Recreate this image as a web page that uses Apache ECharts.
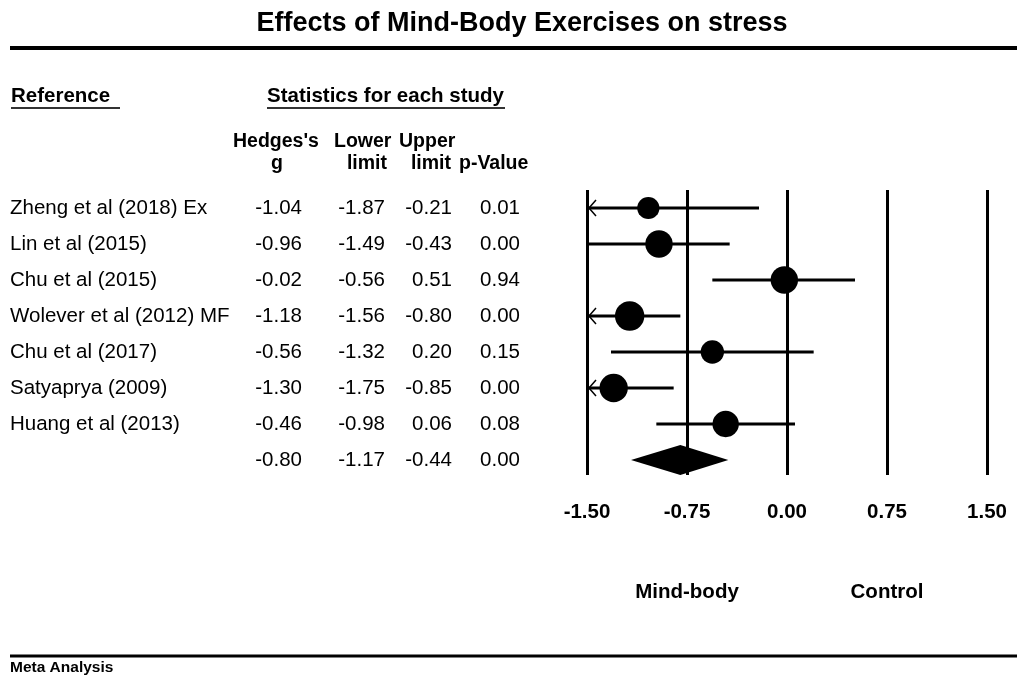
<!DOCTYPE html>
<html>
<head>
<meta charset="utf-8">
<script src="https://cdn.jsdelivr.net/npm/echarts@6/dist/echarts.min.js"></script>
<style>
  html, body { margin: 0; padding: 0; background: #fff; }
  #chart { width: 1017px; height: 681px; }
</style>
</head>
<body>
<div id="chart"></div>
<script>
  // data
  var studies = ['Zheng et al (2018) Ex', 'Lin et al (2015)', 'Chu et al (2015)',
    'Wolever et al (2012) MF', 'Chu et al (2017)', 'Satyaprya (2009)', 'Huang et al (2013)']
  var hedgesG = [-1.04, -0.96, -0.02, -1.18, -0.56, -1.30, -0.46]
  var lowerLimit = [-1.87, -1.49, -0.56, -1.56, -1.32, -1.75, -0.98]
  var upperLimit = [-0.21, -0.43, 0.51, -0.80, 0.20, -0.85, 0.06]
  var pValue = [0.01, 0.00, 0.94, 0.00, 0.15, 0.00, 0.08]
  // relative weight (%)
  var studyWeight = [10.1, 15.3, 15.3, 17.6, 11.1, 16.4, 14.2]
  var summaryG = -0.80
  var summaryLower = -1.17
  var summaryUpper = -0.44
  var summaryP = 0.00
  var xTicks = [-1.50, -0.75, 0.00, 0.75, 1.50]

  var FONT = '"Liberation Sans", Arial, sans-serif'
  var FS = 20.5
  var HS = 19.5 // column header size
  var xMin = xTicks[0]
  var xMax = xTicks[xTicks.length - 1]
  var nRows = studies.length + 1

  var chart = echarts.init(document.getElementById('chart'))

  // CI whiskers, clipped with an open arrow when off scale
  function renderCI (params, api) {
    var lo = api.value(0)
    var hi = api.value(1)
    var row = api.value(2)
    var p1 = api.coord([Math.max(lo, xMin), row])
    var p2 = api.coord([Math.min(hi, xMax), row])
    var children = [{
      type: 'line',
      shape: { x1: p1[0], y1: p1[1], x2: p2[0], y2: p2[1] },
      style: { stroke: '#000', lineWidth: 3 }
    }]
    if (lo < xMin) {
      children.push({
        type: 'polyline',
        shape: { points: [[p1[0] + 9, p1[1] - 8], [p1[0] + 2, p1[1]], [p1[0] + 9, p1[1] + 8]] },
        style: { stroke: '#000', lineWidth: 1.5, fill: null }
      })
    }
    return { type: 'group', children: children }
  }

  function renderDiamond (params, api) {
    var lo = api.coord([api.value(0), api.value(3)])
    var mid = api.coord([api.value(1), api.value(3)])
    var hi = api.coord([api.value(2), api.value(3)])
    var h = 15
    return {
      type: 'polygon',
      shape: { points: [[lo[0], lo[1]], [mid[0], mid[1] - h], [hi[0], hi[1]], [mid[0], mid[1] + h]] },
      style: { fill: '#000' }
    }
  }

  var ciData = studies.map(function (s, i) { return [lowerLimit[i], upperLimit[i], i] })
  var pointData = studies.map(function (s, i) { return [hedgesG[i], i, studyWeight[i]] })

  chart.setOption({
    backgroundColor: '#fff',
    animation: false,
    grid: { left: 587, right: 30, top: 190, bottom: 206 },
    xAxis: {
      type: 'value',
      min: xMin,
      max: xMax,
      interval: 0.75,
      axisLine: { show: false },
      axisTick: { show: false },
      axisLabel: { show: false },
      splitLine: { show: true, showMinLine: true, showMaxLine: true, lineStyle: { color: '#000', width: 3 } }
    },
    yAxis: {
      type: 'value',
      inverse: true,
      min: -0.5,
      max: 7.417,
      show: false,
      splitLine: { show: false }
    },
    series: [{
      type: 'custom',
      renderItem: renderCI,
      clip: false,
      data: ciData,
      z: 2
    }, {
      type: 'scatter',
      data: pointData,
      symbol: 'circle',
      symbolSize: function (val) { return Math.sqrt(val[2]) * 7 },
      itemStyle: { color: '#000', opacity: 1 },
      z: 3
    }, {
      type: 'custom',
      renderItem: renderDiamond,
      clip: false,
      data: [[summaryLower, summaryG, summaryUpper, nRows - 1]],
      z: 3
    }]
  })

  // table text placed on the same rows as the plot
  var rowY = []
  for (var r = 0; r < nRows; r++) {
    rowY.push(chart.convertToPixel({ yAxisIndex: 0 }, r))
  }

  function txt (text, x, y, align, size, bold) {
    return {
      type: 'text',
      x: x,
      y: y,
      style: {
        text: text,
        fill: '#000',
        font: (bold ? 'bold ' : '') + size + 'px ' + FONT,
        align: align,
        verticalAlign: 'middle'
      }
    }
  }
  function rule (x1, x2, y, w, color) {
    return {
      type: 'line',
      shape: { x1: x1, y1: y, x2: x2, y2: y },
      style: { stroke: color || '#000', lineWidth: w }
    }
  }

  var cols = [302, 385, 452, 520]
  var g = []
  g.push(txt('Effects of Mind-Body Exercises on stress', 522, 24, 'center', 27, true))
  g.push(rule(10, 1017, 48, 4))
  g.push(txt('Reference', 11, 96, 'left', FS, true))
  g.push(rule(11, 120, 108, 2, '#333'))
  g.push(txt('Statistics for each study', 267, 96, 'left', FS, true))
  g.push(rule(267, 505, 108, 2, '#333'))
  g.push(txt('Hedges\'s', 233, 142, 'left', HS, true))
  g.push(txt('Lower', 334, 142, 'left', HS, true))
  g.push(txt('Upper', 399, 142, 'left', HS, true))
  g.push(txt('g', 277, 164, 'center', HS, true))
  g.push(txt('limit', 387, 164, 'right', HS, true))
  g.push(txt('limit', 451, 164, 'right', HS, true))
  g.push(txt('p-Value', 459, 164, 'left', HS, true))

  studies.forEach(function (s, i) {
    var y = rowY[i]
    g.push(txt(s, 10, y, 'left', FS, false))
    g.push(txt(hedgesG[i].toFixed(2), cols[0], y, 'right', FS, false))
    g.push(txt(lowerLimit[i].toFixed(2), cols[1], y, 'right', FS, false))
    g.push(txt(upperLimit[i].toFixed(2), cols[2], y, 'right', FS, false))
    g.push(txt(pValue[i].toFixed(2), cols[3], y, 'right', FS, false))
  })
  var ys = rowY[nRows - 1]
  g.push(txt(summaryG.toFixed(2), cols[0], ys, 'right', FS, false))
  g.push(txt(summaryLower.toFixed(2), cols[1], ys, 'right', FS, false))
  g.push(txt(summaryUpper.toFixed(2), cols[2], ys, 'right', FS, false))
  g.push(txt(summaryP.toFixed(2), cols[3], ys, 'right', FS, false))

  // tick labels, placed through the x scale
  xTicks.forEach(function (t) {
    g.push(txt(t.toFixed(2), chart.convertToPixel({ xAxisIndex: 0 }, t), 512, 'center', FS, true))
  })

  g.push(txt('Mind-body', chart.convertToPixel({ xAxisIndex: 0 }, -0.75), 592, 'center', FS, true))
  g.push(txt('Control', chart.convertToPixel({ xAxisIndex: 0 }, 0.75), 592, 'center', FS, true))
  g.push(rule(10, 1017, 656, 3))
  g.push(txt('Meta Analysis', 10, 668, 'left', 15.5, true))

  chart.setOption({ graphic: { elements: g } })
</script>
</body>
</html>
